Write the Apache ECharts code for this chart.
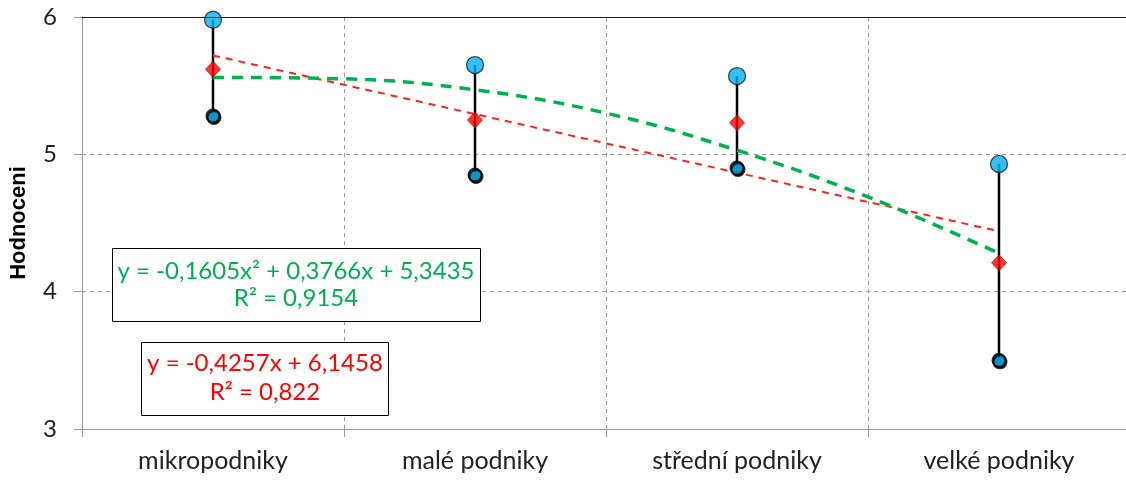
<!DOCTYPE html>
<html><head><meta charset="utf-8">
<script src="https://cdn.jsdelivr.net/npm/echarts@6/dist/echarts.min.js"></script>
<style>html,body{margin:0;padding:0;background:#fff}#c{width:1126px;height:480px}</style>
</head><body><div id="c"></div>
<script>
const categories = ['mikropodniky', 'malé podniky', 'střední podniky', 'velké podniky'];
const highValues = [5.98, 5.65, 5.57, 4.93];
const lowValues = [5.28, 4.85, 4.90, 3.50];
const meanValues = [5.62, 5.25, 5.23, 4.21];
const linearTrendX = [1, 4];
const linearTrendY = [5.72, 4.44];
const polyTrendX = [1, 1.5, 2, 2.5, 3, 3.5, 4];
const polyTrendY = [5.56, 5.55, 5.47, 5.30, 5.03, 4.69, 4.28];
const yTicks = [3, 4, 5, 6];
const yAxisTitle = 'Hodnoceni';
const polyLabel = ['y = -0,1605x² + 0,3766x + 5,3435', 'R² = 0,9154'];
const linLabel = ['y = -0,4257x + 6,1458', 'R² = 0,822'];

const FONT = 'Lato';
const chart = echarts.init(document.getElementById('c'), null, {renderer: 'canvas'});
const rangeData = categories.map((c, i) => [i, lowValues[i], highValues[i]]);

chart.setOption({
  animation: false,
  textStyle: {fontFamily: FONT},
  grid: {left: 82, right: -4, top: 17, bottom: 51, containLabel: false, outerBoundsMode: 'none', show: false},
  xAxis: [{
    type: 'category', data: categories, boundaryGap: true,
    axisLine: {lineStyle: {color: '#999', width: 1}},
    axisTick: {show: true, length: 8, lineStyle: {color: '#999'}},
    axisLabel: {color: '#222', fontSize: 25, margin: 19, fontFamily: FONT},
    splitLine: {show: true, lineStyle: {color: '#999', type: [4, 4], width: 1}}
  }, {
    type: 'value', min: 0.5, max: 4.5, show: false, position: 'bottom'
  }],
  yAxis: {
    type: 'value', min: 3, max: 6, interval: 1,
    name: yAxisTitle, nameLocation: 'middle', nameGap: 52, nameRotate: 90,
    nameTextStyle: {fontSize: 22, fontWeight: 'bold', color: '#000', fontFamily: 'Liberation Sans'},
    axisLine: {show: true, lineStyle: {color: '#999'}},
    axisTick: {show: true, length: 8, lineStyle: {color: '#999'}},
    axisLabel: {color: '#222', fontSize: 24, margin: 25, fontFamily: FONT,
      formatter: v => yTicks.includes(v) ? String(v) : ''},
    splitLine: {show: true, lineStyle: {color: '#999', type: [4, 4], width: 1}}
  },
  series: [
    {
      type: 'custom', xAxisIndex: 0, z: 2,
      data: rangeData,
      renderItem: (params, api) => {
        const p1 = api.coord([api.value(0), api.value(1)]);
        const p2 = api.coord([api.value(0), api.value(2)]);
        return {type: 'line', shape: {x1: p1[0], y1: p1[1], x2: p2[0], y2: p2[1]},
          style: {stroke: '#000', lineWidth: 2.5}};
      }
    },
    {
      type: 'line', xAxisIndex: 1, z: 3, symbol: 'none',
      data: linearTrendX.map((x, i) => [x, linearTrendY[i]]),
      lineStyle: {color: '#FF2020', width: 2, type: [7, 6]}
    },
    {
      type: 'line', xAxisIndex: 1, z: 3, symbol: 'none', smooth: 0.4,
      data: polyTrendX.map((x, i) => [x, polyTrendY[i]]),
      lineStyle: {color: '#00B050', width: 3.5, type: [11, 8]}
    },
    {
      type: 'scatter', xAxisIndex: 0, z: 5, symbol: 'circle', symbolSize: 13,
      data: lowValues,
      itemStyle: {color: '#00B0F0', borderColor: '#000', borderWidth: 2,
        shadowColor: 'rgba(0,0,0,1)', shadowBlur: 0, shadowOffsetX: 1, shadowOffsetY: 1.5}
    },
    {
      type: 'scatter', xAxisIndex: 0, z: 5, symbol: 'circle', symbolSize: 17,
      data: highValues,
      itemStyle: {color: '#00B0F0', borderColor: '#222', borderWidth: 1.3}
    },
    {
      type: 'scatter', xAxisIndex: 0, z: 6, symbol: 'diamond', symbolSize: [15, 16],
      data: meanValues,
      itemStyle: {color: '#FF0000', borderColor: '#A00000', borderWidth: 0.8}
    }
  ],
  graphic: [
    {type: 'line', z: 10, shape: {x1: 82, y1: 17.5, x2: 1126, y2: 17.5}, style: {stroke: '#222', lineWidth: 1.2}},
    {type: 'rect', z: 10, shape: {x: 112.5, y: 248.5, width: 368, height: 73},
      style: {fill: '#fff', stroke: '#000', lineWidth: 1}},
    {type: 'text', z: 11, x: 296, y: 285, style: {text: polyLabel.join('\n'), fill: '#00B050',
      fontSize: 24, fontFamily: FONT, align: 'center', verticalAlign: 'middle', lineHeight: 27}},
    {type: 'rect', z: 10, shape: {x: 141.5, y: 342.5, width: 247, height: 73},
      style: {fill: '#fff', stroke: '#000', lineWidth: 1}},
    {type: 'text', z: 11, x: 265, y: 378, style: {text: linLabel.join('\n'), fill: '#FF0000',
      fontSize: 24, fontFamily: FONT, align: 'center', verticalAlign: 'middle', lineHeight: 29}}
  ]
});
</script></body></html>
